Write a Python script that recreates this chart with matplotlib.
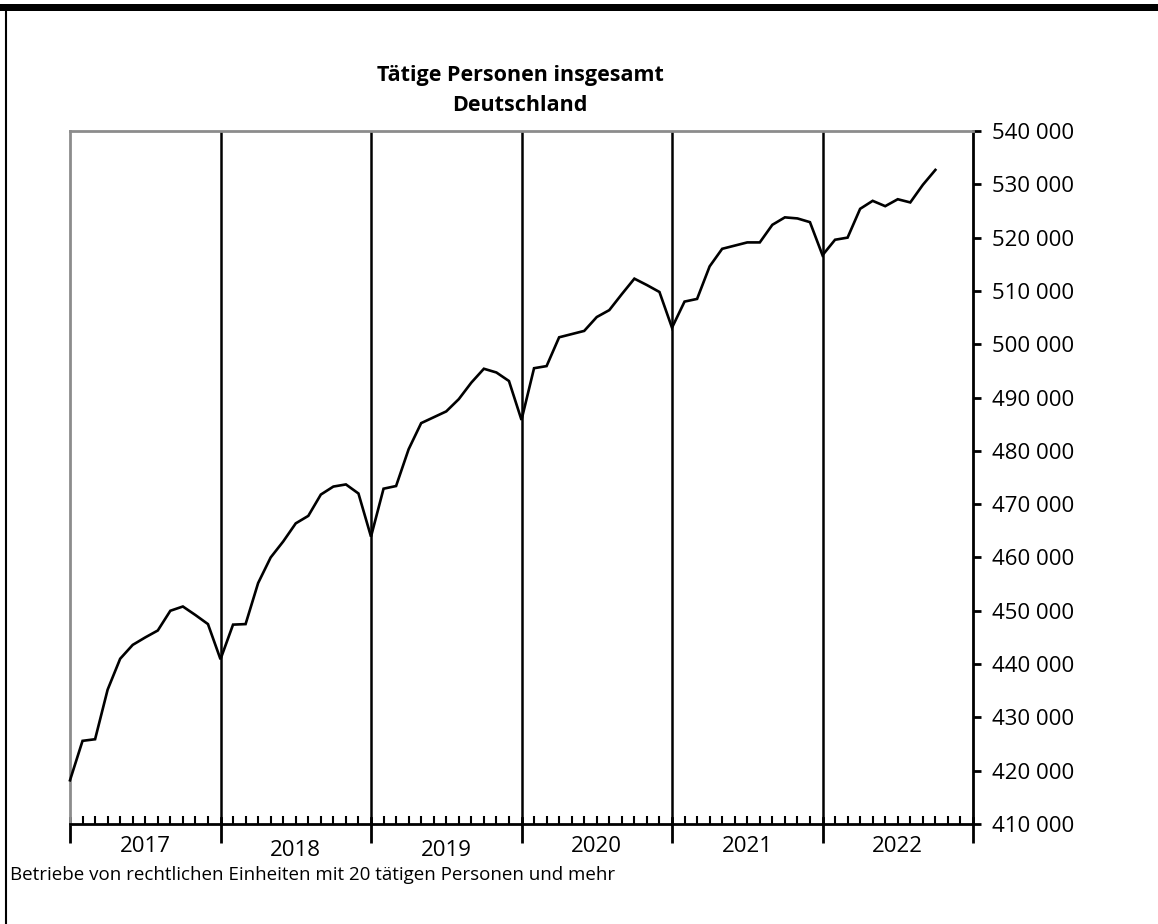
import matplotlib
matplotlib.use("Agg")
import matplotlib.pyplot as plt
from matplotlib.lines import Line2D
from matplotlib.patches import Rectangle

plt.rcParams['font.family'] = ['Open Sans', 'DejaVu Sans']

title = "Tätige Personen insgesamt\nDeutschland"
footnote = "Betriebe von rechtlichen Einheiten mit 20 tätigen Personen und mehr"
years = ["2017", "2018", "2019", "2020", "2021", "2022"]

v2017 = [418200, 425600, 425900, 435200, 441000, 443600, 445000, 446300, 450000, 450800, 449200, 447500]
v2018 = [440900, 447400, 447500, 455200, 460000, 463000, 466400, 467800, 471800, 473300, 473700, 472000]
v2019 = [463900, 472900, 473400, 480300, 485200, 486300, 487400, 489700, 492800, 495400, 494700, 493100]
v2020 = [485800, 495500, 495900, 501300, 501900, 502500, 505100, 506400, 509400, 512300, 511100, 509800]
v2021 = [503100, 508000, 508500, 514600, 517900, 518500, 519100, 519100, 522400, 523800, 523600, 522900]
v2022 = [516700, 519600, 520000, 525400, 526900, 525900, 527200, 526600, 529900, 532700]

values = v2017 + v2018 + v2019 + v2020 + v2021 + v2022
months = list(range(len(values)))

y_min, y_max, y_step = 410000, 540000, 10000
n_months = 12 * len(years)

W, H = 1158, 924
fig = plt.figure(figsize=(W / 100, H / 100), dpi=100)

# outer frame: thick top bar and thin left line
fig.add_artist(Rectangle((0, 1 - 11 / H), 1, 7 / H, transform=fig.transFigure,
                         facecolor='black', edgecolor='none'))
fig.add_artist(Line2D([5.5 / W, 5.5 / W], [0, 1 - 8 / H], transform=fig.transFigure,
                      color='black', lw=1.5))

ax = fig.add_axes([70 / W, 1 - 824 / H, (973 - 70) / W, (824 - 131) / H])
ax.set_xlim(0, n_months)
ax.set_ylim(y_min, y_max)

ax.plot(months, values, color='black', lw=1.9, solid_joinstyle='miter', zorder=3, clip_on=False)

# spines
ax.spines['left'].set_color('#8c8c8c')
ax.spines['left'].set_linewidth(2)
ax.spines['top'].set_color('#8c8c8c')
ax.spines['top'].set_linewidth(2)
ax.spines['right'].set_color('black')
ax.spines['right'].set_linewidth(2)
ax.spines['bottom'].set_color('black')
ax.spines['bottom'].set_linewidth(2)

# year separators
for k in range(1, len(years)):
    ax.axvline(12 * k, color='black', lw=1.8, zorder=2)

# y axis on the right
ax.yaxis.tick_right()
yt = list(range(y_min, y_max + 1, y_step))
ax.set_yticks(yt)
ax.set_yticklabels([f"{v:,}".replace(",", " ") for v in yt], fontsize=16)
ax.tick_params(axis='y', which='major', direction='out', length=6, width=2,
               color='black', pad=8, right=True, left=False)

# x axis: major year ticks (down), minor month ticks (up)
ax.set_xticks([12 * k for k in range(len(years) + 1)])
ax.set_xticklabels([])
ax.tick_params(axis='x', which='major', direction='out', length=14, width=2, color='black')
ax.set_xticks(list(range(n_months + 1)), minor=True)
ax.tick_params(axis='x', which='minor', direction='in', length=6, width=1.5, color='black')
for k in range(len(years) + 1):
    ax.plot([12 * k, 12 * k], [0, 0.008], transform=ax.get_xaxis_transform(),
            color='black', lw=2, clip_on=False)

year_offsets = [0, 5, 5, 0, 0, 0]
for k, yl in enumerate(years):
    ypix = 846 + year_offsets[k]
    fig.text((70 + (12 * k + 6) * (973 - 70) / n_months) / W, 1 - ypix / H, yl,
             ha='center', va='center', fontsize=16)

fig.text(520 / W, 1 - 90.5 / H, title, ha='center', va='center', fontsize=15.5,
         fontweight='bold', linespacing=1.55)
fig.text(10 / W, 1 - 875 / H, footnote, ha='left', va='center', fontsize=13.5)

fig.savefig("out.png", dpi=100)
